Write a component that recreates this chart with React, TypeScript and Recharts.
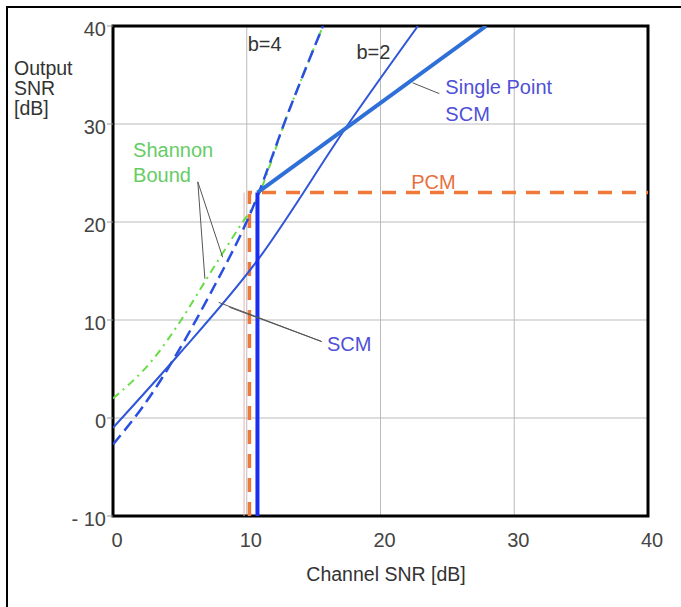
import React from 'react';
import { LineChart, Line, XAxis, YAxis, CartesianGrid, ReferenceArea, ReferenceLine, ReferenceDot } from 'recharts';

// Channel SNR [dB] -> Output SNR [dB]
const shannonX = [0, 3, 5, 7, 9.7, 10.4, 13.2, 15.7];
const shannonY = [2, 6, 9.8, 14.2, 20, 21.4, 31.5, 40];
const scmB4X = [0, 2.2, 7.2, 10.4, 13.2, 15.7];
const scmB4Y = [-2.7, 1.1, 12.5, 21.3, 31.5, 40];
const scmB2X = [0, 4.8, 10.7, 17.7, 22.8];
const scmB2Y = [-1, 6.3, 15.9, 30.2, 40];
const singlePointX = [10.8, 27.9];
const singlePointY = [23, 40];
const thresholdX = [10.8, 10.8];
const thresholdY = [-10, 23];
const pcmX = [10.2, 10.2, 40];
const pcmY = [-10, 23, 23];
const guideX = [9.8, 9.8];
const guideY = [-10, 23];

const xTicks = [0, 10, 20, 30, 40];
const yTicks = [-10, 0, 10, 20, 30, 40];

const toPoints = (xs: number[], ys: number[]) => xs.map((x, i) => ({ x, y: ys[i] }));

const FONT = '"Liberation Sans", Arial, sans-serif';

const XTick = ({ x, y, payload }: any) => (
  <text x={x + 4} y={y + 23} textAnchor="middle" fill="#444" fontSize={20} fontFamily={FONT}>
    {payload.value}
  </text>
);

const YTick = ({ x, y, payload }: any) => (
  <text x={x} y={y + 10} textAnchor="end" fill="#444" fontSize={20} fontFamily={FONT}>
    {payload.value === -10 ? '- 10' : payload.value}
  </text>
);

const note = (value: string, fill: string) => ({
  value,
  position: 'right' as const,
  offset: 0,
  fill,
  fontSize: 20,
  fontFamily: FONT,
});

export default function App() {
  return (
    <div style={{ position: 'absolute', left: 0, top: 0, width: 681, height: 607, background: '#fff', fontFamily: FONT }}>
      <div style={{ position: 'absolute', left: 6, top: 6, width: 675, height: 601, borderTop: '2px solid #000', borderLeft: '2px solid #000' }} />
      <LineChart width={681} height={607} margin={{ top: 26, right: 33, bottom: 31, left: 0 }}>
        <CartesianGrid stroke="#bbb" strokeWidth={1} />
        <XAxis
          type="number"
          dataKey="x"
          domain={[0, 40]}
          ticks={xTicks}
          allowDataOverflow
          axisLine={false}
          tickLine={false}
          tick={<XTick />}
          height={60}
        />
        <YAxis
          type="number"
          dataKey="y"
          domain={[-10, 40]}
          ticks={yTicks}
          allowDataOverflow
          width={113}
          axisLine={false}
          tickLine={{ stroke: '#999' }}
          tickSize={6}
          tickMargin={1}
          tick={<YTick />}
        />
        <Line data={toPoints(guideX, guideY)} dataKey="y" stroke="#e8b0a8" strokeWidth={1} dot={false} isAnimationActive={false} />
        <Line data={toPoints(pcmX, pcmY)} dataKey="y" stroke="#f07838" strokeWidth={3.5} strokeDasharray="14 10" dot={false} isAnimationActive={false} />
        <Line data={toPoints(shannonX, shannonY)} type="monotone" dataKey="y" stroke="#66dd44" strokeWidth={2} strokeDasharray="8 5 2 5" dot={false} isAnimationActive={false} />
        <Line data={toPoints(scmB4X, scmB4Y)} type="monotone" dataKey="y" stroke="#2a4fe0" strokeWidth={2.5} strokeDasharray="12 6" dot={false} isAnimationActive={false} />
        <Line data={toPoints(scmB2X, scmB2Y)} type="monotone" dataKey="y" stroke="#2f55d8" strokeWidth={2} dot={false} isAnimationActive={false} />
        <Line data={toPoints(singlePointX, singlePointY)} dataKey="y" stroke="#2f6fd8" strokeWidth={4} dot={false} isAnimationActive={false} />
        <Line data={toPoints(thresholdX, thresholdY)} dataKey="y" stroke="#1a2ef2" strokeWidth={4} dot={false} isAnimationActive={false} />

        {/* callout leaders */}
        <ReferenceLine segment={[{ x: 6.34, y: 24.1 }, { x: 8.2, y: 16.4 }]} stroke="#555" strokeWidth={1} />
        <ReferenceLine segment={[{ x: 6.34, y: 24.1 }, { x: 6.87, y: 14.2 }]} stroke="#555" strokeWidth={1} />
        <ReferenceLine segment={[{ x: 15.6, y: 7.8 }, { x: 7.9, y: 11.8 }]} stroke="#555" strokeWidth={1} />
        <ReferenceLine segment={[{ x: 15.6, y: 7.8 }, { x: 8.7, y: 11.3 }]} stroke="#555" strokeWidth={1} />
        <ReferenceLine segment={[{ x: 24.4, y: 33.1 }, { x: 22.4, y: 34.2 }]} stroke="#555" strokeWidth={1} />

        <ReferenceDot x={10.07} y={38.2} r={0} label={note('b=4', '#333')} />
        <ReferenceDot x={18.2} y={37.4} r={0} label={note('b=2', '#333')} />
        <ReferenceDot x={24.85} y={33.8} r={0} label={note('Single Point', '#5050d8')} />
        <ReferenceDot x={24.85} y={31.0} r={0} label={note('SCM', '#5050d8')} />
        <ReferenceDot x={1.5} y={27.4} r={0} label={note('Shannon', '#66cc66')} />
        <ReferenceDot x={1.5} y={24.8} r={0} label={note('Bound', '#66cc66')} />
        <ReferenceDot x={16.0} y={7.55} r={0} label={note('SCM', '#5050d8')} />
        <ReferenceDot x={22.3} y={24.1} r={0} label={note('PCM', '#e87040')} />

        <ReferenceArea x1={0} x2={40} y1={-10} y2={40} fill="none" stroke="#000" strokeWidth={3} ifOverflow="visible" />
      </LineChart>
      <div style={{ position: 'absolute', left: 14, top: 58, fontSize: 19.5, lineHeight: '20px', color: '#333' }}>
        Output<br />SNR<br />[dB]
      </div>
      <div style={{ position: 'absolute', left: 236, top: 563, width: 300, textAlign: 'center', fontSize: 19.5, color: '#333' }}>
        Channel SNR [dB]
      </div>
    </div>
  );
}
